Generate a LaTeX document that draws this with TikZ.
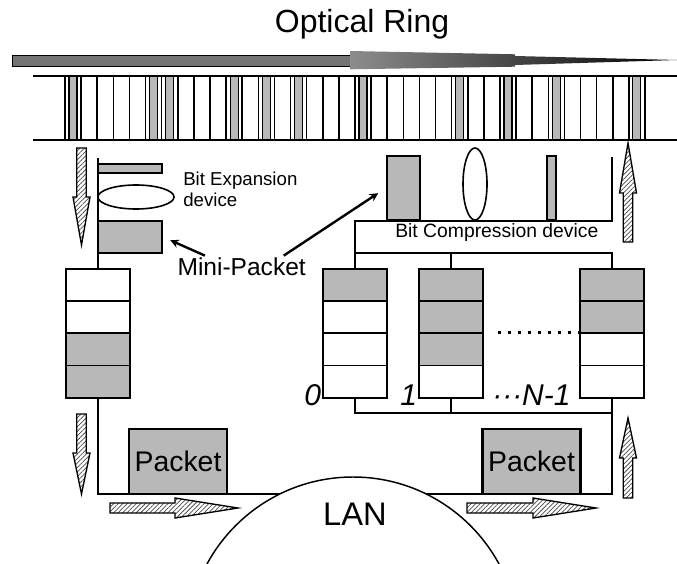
\documentclass[tikz,border=0pt]{standalone}
\usepackage{fontspec}
\setmainfont{Liberation Sans}
\usetikzlibrary{calc,patterns.meta,positioning}
\tikzset{
 wire/.style={line width=1.3pt},
 boxln/.style={line width=1.6pt},
 dotfill/.style={fill=black!28},
 hatch/.style={draw,line width=1pt,preaction={fill=white},
   pattern={Lines[angle=45,distance=2.4pt,line width=.55pt]},pattern color=black!70},
 qbox/.style={minimum width=48pt,minimum height=96.75pt,inner sep=0pt},
 pkt/.style={draw,boxln,dotfill,minimum width=73.5pt,minimum height=48.75pt,
   inner sep=0pt,font=\fontsize{21.3}{24}\selectfont},
 lbl/.style={inner sep=0pt,anchor=base west,font=\fontsize{22.5}{26}\selectfont\itshape},
}
% queue: name, centre x, shaded cells
\newcommand\drawqueue[3]{%
  \node[qbox] (#1) at (#2,333.5) {};
  \foreach \cl in {#3}
    \fill[dotfill] ($(#1.north west)+(0,32.25*\cl)$) rectangle ++(64,32.25);
  \foreach \cl in {1,2,3}
    \draw[line width=1.2pt] ($(#1.north west)+(0,32.25*\cl)$) -- ++(64,0);
  \draw[boxln] (#1.north west) rectangle (#1.south east);}
% hatched flow arrows
\newcommand\vflow[4]{\filldraw[hatch] (#1-4.75,#2) -- (#1+4.75,#2) -- (#1+4.75,#3)
  -- (#1+8.5,#3) -- (#1,#4) -- (#1-8.5,#3) -- (#1-4.75,#3) -- cycle;}
\newcommand\hflow[4]{\filldraw[hatch] (#1,#4-5) -- (#2,#4-5) -- (#2,#4-10)
  -- (#3,#4) -- (#2,#4+10) -- (#2,#4+5) -- (#1,#4+5) -- cycle;}
\begin{document}
\begin{tikzpicture}[x=0.75pt,y=-0.75pt,>=stealth]
 \fill[white] (0,0) rectangle (677,563);
 \useasboundingbox (0,0) rectangle (677,563);
 \node[font=\fontsize{24}{28}\selectfont,anchor=base] (title) at (362,33) {Optical Ring};
 % ring band
 \filldraw[fill=black!55,line width=.6pt] (12,55) rectangle (350,66);
 \shade[left color=black!45,right color=black] (350,51) -- (515,54.3) -- (515,56)
   -- (677,60) -- (515,65) -- (515,66.7) -- (350,69.3) -- cycle;
 \draw[line width=1.1pt] (33,76) -- (677,76) (33,140) -- (677,140);
 \foreach \i in {0,5,6,10,12,14,18,24,27,30,35}
   \filldraw[dotfill,draw=black,line width=.9pt] ({65+16.111*\i+4},76) rectangle ++(8,64);
 \foreach \i in {0,...,36}
   \draw[line width=1.1pt] ({65+16.111*\i},76) -- ++(0,64);
 % queues
 \drawqueue{qL}{98}{2,3}
 \drawqueue{q0}{355}{0}
 \drawqueue{q1}{451}{0,1,2}
 \drawqueue{qN}{612}{0,1}
 % expansion side
 \coordinate (inL) at (98,158);
 \draw[wire] (inL) -- (qL.north);
 \filldraw[dotfill,draw=black,line width=1.2pt] (98,164) rectangle (162,173);
 \draw[line width=1.2pt] (136,197) ellipse [x radius=38,y radius=12];
 \node[draw,boxln,dotfill,minimum width=48pt,minimum height=24pt,inner sep=0pt] (mpL) at (130,237) {};
 \node[font=\fontsize{14}{15.75}\selectfont,align=left,anchor=north west,inner sep=0pt]
   (bexp) at (183,171.5) {Bit Expansion\\device};
 % compression side
 \coordinate (outR) at (612,157);
 \coordinate (devbot) at (612,253);
 \coordinate (mux) at (612,413);
 \coordinate (bot) at (612,494);
 \node[draw,boxln,dotfill,minimum width=24.75pt,minimum height=48pt,inner sep=0pt] (mpR) at (403.5,188) {};
 \draw[line width=1.2pt] (475,184) ellipse [x radius=12,y radius=36];
 \filldraw[dotfill,draw=black,line width=1.2pt] (547,156) rectangle (556,220);
 \draw[wire] (outR) |- (q0.north |- mpR.south) -- (q0.north);
 \draw[wire] (q0.north |- devbot) -- (devbot) -- (qN.north);
 \draw[wire] (q1.north) -- (q1.north |- devbot);
 \draw[wire] (q0.south) |- (mux);
 \draw[wire] (q1.south) -- (q1.south |- mux);
 \draw[wire] (qL.south) |- (bot) -- (qN.south);
 \node[font=\fontsize{14.5}{17}\selectfont,anchor=base west,inner sep=0pt] (bcomp) at (395,237) {Bit Compression device};
 % mini-packet
 \node[font=\fontsize{18.4}{22}\selectfont,anchor=base west,inner sep=1pt] (mini) at (176,275) {Mini-Packet};
 \draw[->,line width=1.8pt,shorten >=6pt] ($(mini.north west)!.22!(mini.north east)$) -- (mpL.east);
 \draw[->,line width=1.8pt,shorten >=7pt] ($(mini.north west)!.82!(mini.north east)$) -- (mpR.west);
 % queue labels
 \coordinate (gap) at (498,332);
 \draw[line width=2.25pt,dash pattern=on 2.25pt off 5.25pt] (gap) -- (gap -| qN.west);
 \node[lbl] (n0) at (304,405) {0};
 \node[lbl] (n1) at (400,405) {1};
 \node[lbl] (nN) at (492,405) {···N-1};
 % packets and LAN
 \node[pkt] (pktL) at (178,461.5) {Packet};
 \node[pkt] (pktR) at (531.5,461.5) {Packet};
 \filldraw[fill=white,line width=1.1pt] (353,643) circle [radius=166];
 \node[font=\fontsize{24.5}{28}\selectfont] (lan) at (355,514) {LAN};
 % flow arrows
 \vflow{81.5}{148}{197}{245}
 \vflow{81.5}{414}{453}{494}
 \vflow{628}{242}{193}{143}
 \vflow{628}{498}{458}{418}
 \hflow{110}{175}{238}{508}
 \hflow{467}{533}{596}{508}
\end{tikzpicture}
\end{document}
